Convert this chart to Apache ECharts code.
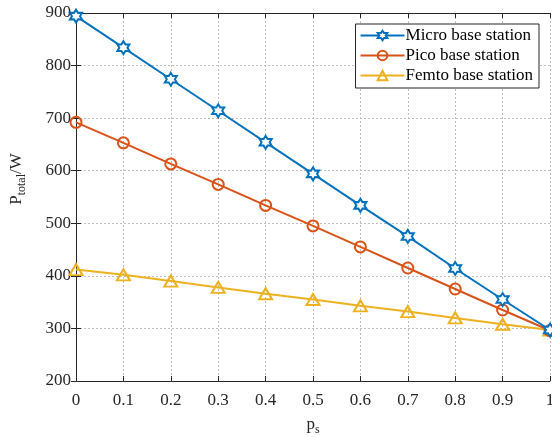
<!DOCTYPE html>
<html><head><meta charset="utf-8">
<script src="https://cdn.jsdelivr.net/npm/echarts@6/dist/echarts.min.js"></script>
<style>html,body{margin:0;padding:0;background:#fff}#c{width:552px;height:437px}</style>
</head><body><div id="c"></div>
<script>
const xValues = [0, 0.1, 0.2, 0.3, 0.4, 0.5, 0.6, 0.7, 0.8, 0.9, 1];
const microValues = [894, 834, 774, 714, 654, 594, 534, 475, 414, 355, 297];
const picoValues = [692, 653, 613, 574, 534, 495, 455, 415, 375, 335, 296];
const femtoValues = [412, 402, 390, 378, 366, 355, 343, 332, 320, 308, 297];
const seriesNames = ['Micro base station', 'Pico base station', 'Femto base station'];
const yTicks = [200, 300, 400, 500, 600, 700, 800, 900];

const font = '"Liberation Serif", "Times New Roman", serif';
const colors = ['#0072BD', '#D95319', '#EDB120'];
const star = 'path://M0,-10 L2.887,-5 L8.66,-5 L5.774,0 L8.66,5 L2.887,5 L0,10 L-2.887,5 L-8.66,5 L-5.774,0 L-8.66,-5 L-2.887,-5 Z';

function pairs(vals){ return xValues.map((x,i)=>[x, vals[i]]); }

const chart = echarts.init(document.getElementById('c'), null, {renderer:'canvas'});
const gridLine = {show:true, lineStyle:{color:'#bdbdbd', type:[2,2], width:1}};
const axisLine = {show:true, lineStyle:{color:'#262626', width:1}};
const tick = {show:true, inside:true, length:5, lineStyle:{color:'#262626'}};
chart.setOption({
  animation:false,
  grid:{left:76, right:2, top:13, bottom:56, outerBoundsMode:'none', containLabel:false},
  legend:{
    orient:'vertical', right:13, top:24,
    backgroundColor:'#fff', borderColor:'#262626', borderWidth:1,
    padding:[3,6,4,4], itemGap:3, itemWidth:44, itemHeight:12,
    textStyle:{fontFamily:font, fontSize:17, color:'#000', padding:[0,0,0,-4]},
    data:seriesNames
  },
  xAxis:[{
    type:'value', min:0, max:1, interval:0.1, position:'bottom',
    axisLine:axisLine, axisTick:tick, splitLine:gridLine,
    axisLabel:{fontFamily:font, fontSize:17, color:'#262626', margin:11,
      formatter:v=>String(Math.round(v*10)/10)},
    name:'{a|p}{b|s}', nameLocation:'middle', nameGap:33,
    nameTextStyle:{rich:{a:{fontFamily:font, fontSize:17, color:'#262626'},
      b:{fontFamily:font, fontSize:12, color:'#262626', padding:[10,0,0,0]}}}
  },{
    type:'value', min:0, max:1, interval:0.1, position:'top',
    axisLine:axisLine, axisTick:tick, splitLine:{show:false}, axisLabel:{show:false}
  }],
  yAxis:[{
    type:'value', min:yTicks[0], max:yTicks[yTicks.length-1], interval:100,
    axisLine:axisLine, axisTick:tick, splitLine:gridLine,
    axisLabel:{fontFamily:font, fontSize:17, color:'#262626', margin:5},
    name:'{a|P}{b|total}{a|/W}', nameLocation:'middle', nameGap:48, nameRotate:90,
    nameTextStyle:{padding:[0,0,0,36], rich:{a:{fontFamily:font, fontSize:17, color:'#262626'},
      b:{fontFamily:font, fontSize:12, color:'#262626', padding:[10,0,0,0]}}}
  },{
    type:'value', min:yTicks[0], max:yTicks[yTicks.length-1], interval:100, position:'right',
    axisLine:axisLine, axisTick:tick, splitLine:{show:false}, axisLabel:{show:false}
  }],
  series:[
    {name:seriesNames[0], type:'line', data:pairs(microValues), symbol:star, symbolSize:[12,13],
     lineStyle:{color:colors[0], width:2}, itemStyle:{color:'#fff', borderColor:colors[0], borderWidth:2}, z:3},
    {name:seriesNames[1], type:'line', data:pairs(picoValues), symbol:'circle', symbolSize:11,
     lineStyle:{color:colors[1], width:2}, itemStyle:{color:'rgba(255,255,255,0)', borderColor:colors[1], borderWidth:2}, z:2},
    {name:seriesNames[2], type:'line', data:pairs(femtoValues), symbol:'triangle', symbolSize:[13,11],
     lineStyle:{color:colors[2], width:2}, itemStyle:{color:'rgba(255,255,255,0)', borderColor:colors[2], borderWidth:2}, z:1}
  ]
});
</script></body></html>
